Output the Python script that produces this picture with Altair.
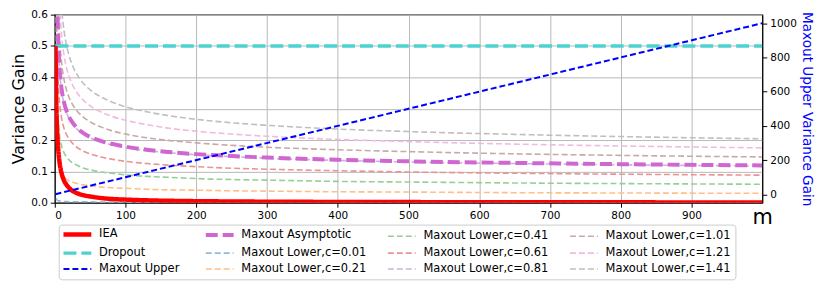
import altair as alt
import pandas as pd

# ---- data ----
M = [1, 2, 3, 4, 5, 6, 8, 10, 13, 16, 20, 25, 30, 40, 50, 65, 80, 100, 130, 160,
     200, 250, 300, 400, 500, 650, 800, 1000]
M_LOW = [2, 3, 4, 5, 6, 8, 10, 13, 16, 20, 25, 30, 40, 50, 65, 80, 100, 130, 160,
         200, 250, 300, 400, 500, 650, 800, 1000]

IEA = [0.5, 0.333, 0.25, 0.2, 0.167, 0.143, 0.111, 0.091, 0.071, 0.059, 0.048, 0.038,
       0.032, 0.024, 0.020, 0.015, 0.012, 0.0099, 0.0076, 0.0062, 0.005, 0.004, 0.0033,
       0.0025, 0.002, 0.0015, 0.0012, 0.001]

DROPOUT_M = [1, 1000]
DROPOUT = [0.5, 0.5]

UPPER_M = [1, 1000]
UPPER = [1, 1000]

ASYMPTOTIC = [1.187, 0.749, 0.593, 0.511, 0.459, 0.396, 0.357, 0.321, 0.297, 0.275, 0.256,
              0.242, 0.223, 0.210, 0.197, 0.188, 0.179, 0.169, 0.162, 0.155, 0.149, 0.144,
              0.137, 0.132, 0.127, 0.123, 0.119]

LOWER_001 = [0.014, 0.009, 0.007, 0.006, 0.006, 0.005, 0.004, 0.004, 0.004, 0.003, 0.003,
             0.003, 0.003, 0.003, 0.002, 0.002, 0.002, 0.002, 0.002, 0.002, 0.002, 0.002,
             0.002, 0.002, 0.002, 0.001, 0.001]
LOWER_021 = [0.303, 0.191, 0.151, 0.130, 0.117, 0.101, 0.091, 0.082, 0.076, 0.070, 0.065,
             0.062, 0.057, 0.054, 0.050, 0.048, 0.046, 0.043, 0.041, 0.040, 0.038, 0.037,
             0.035, 0.034, 0.032, 0.031, 0.030]
LOWER_041 = [0.592, 0.373, 0.296, 0.255, 0.229, 0.197, 0.178, 0.160, 0.148, 0.137, 0.127,
             0.121, 0.111, 0.105, 0.098, 0.094, 0.089, 0.084, 0.081, 0.077, 0.074, 0.072,
             0.068, 0.066, 0.063, 0.061, 0.059]
LOWER_061 = [0.880, 0.555, 0.440, 0.379, 0.340, 0.293, 0.265, 0.238, 0.220, 0.204, 0.190,
             0.179, 0.165, 0.156, 0.146, 0.139, 0.132, 0.125, 0.120, 0.115, 0.110, 0.107,
             0.102, 0.098, 0.094, 0.091, 0.088]
LOWER_081 = [1.169, 0.737, 0.584, 0.503, 0.452, 0.390, 0.352, 0.316, 0.292, 0.270, 0.252,
             0.238, 0.220, 0.207, 0.194, 0.185, 0.176, 0.166, 0.160, 0.153, 0.147, 0.142,
             0.135, 0.130, 0.125, 0.121, 0.117]
LOWER_101 = [1.457, 0.919, 0.729, 0.628, 0.564, 0.486, 0.439, 0.394, 0.364, 0.337, 0.314,
             0.297, 0.274, 0.258, 0.242, 0.230, 0.219, 0.207, 0.199, 0.191, 0.183, 0.177,
             0.169, 0.163, 0.156, 0.151, 0.146]
LOWER_121 = [1.746, 1.101, 0.873, 0.752, 0.675, 0.582, 0.526, 0.472, 0.436, 0.404, 0.376,
             0.356, 0.328, 0.309, 0.290, 0.276, 0.263, 0.249, 0.238, 0.228, 0.219, 0.212,
             0.202, 0.195, 0.187, 0.181, 0.175]
LOWER_141 = [2.034, 1.283, 1.017, 0.876, 0.787, 0.678, 0.612, 0.550, 0.509, 0.471, 0.438,
             0.415, 0.382, 0.360, 0.338, 0.322, 0.306, 0.290, 0.278, 0.266, 0.255, 0.247,
             0.235, 0.227, 0.218, 0.211, 0.204]

LOWER_NAMES = ["Maxout Lower,c=0.01", "Maxout Lower,c=0.21", "Maxout Lower,c=0.41",
               "Maxout Lower,c=0.61", "Maxout Lower,c=0.81", "Maxout Lower,c=1.01",
               "Maxout Lower,c=1.21", "Maxout Lower,c=1.41"]
LOWER_VALUES = [LOWER_001, LOWER_021, LOWER_041, LOWER_061, LOWER_081, LOWER_101,
                LOWER_121, LOWER_141]

# legend order (filled column by column, 3 rows)
ORDER = ["IEA", "Dropout", "Maxout Upper", "Maxout Asymptotic"] + LOWER_NAMES

# ---- styles ----
COLORS = ["#ff0000", "#4dd2d2", "#0000ff", "#d066d0",
          "#8fbbd9", "#ffbf86", "#95cf95", "#ea9393",
          "#c9b3de", "#c5aaa5", "#f1bbe0", "#bfbfbf"]
DASHES = [[1, 0], [13, 5], [6, 3], [12, 5]] + [[6, 3]] * 8
W_IEA, W_DROP, W_UPPER, W_ASYM, W_LOW = 4.5, 3.5, 2, 4, 1.6
SYMBOL_WIDTH_EXPR = (
    f"datum.value == 'IEA' ? {W_IEA} : datum.value == 'Dropout' ? {W_DROP} : "
    f"datum.value == 'Maxout Upper' ? {W_UPPER} : "
    f"datum.value == 'Maxout Asymptotic' ? {W_ASYM} : {W_LOW}"
)

# ---- tables ----
low_rows = []
for name, vals in zip(LOWER_NAMES, LOWER_VALUES):
    for m, v in zip(M_LOW, vals):
        low_rows.append({"series": name, "m": m, "v": v})
low_df = pd.DataFrame(low_rows)
asym_df = pd.DataFrame({"series": "Maxout Asymptotic", "m": M_LOW, "v": ASYMPTOTIC})
drop_df = pd.DataFrame({"series": "Dropout", "m": DROPOUT_M, "v": DROPOUT})
iea_df = pd.DataFrame({"series": "IEA", "m": M, "v": IEA})
upper_df = pd.DataFrame({"series": "Maxout Upper", "m": UPPER_M, "v": UPPER})

FONT = "DejaVu Sans"

legend = alt.Legend(
    title=None, orient="none", legendX=4, legendY=211, columns=4, direction="vertical",
    symbolType="M-1,0H4.6", symbolSize=100,
    symbolStrokeWidth=alt.ExprRef(SYMBOL_WIDTH_EXPR),
    labelFont=FONT, labelFontSize=11.5, labelColor="black", labelOffset=25,
    padding=4, strokeColor="#cccccc", cornerRadius=3, fillColor="white",
    columnPadding=17, rowPadding=1.9, labelLimit=300,
)

x_enc = alt.X("m:Q", scale=alt.Scale(domain=[0, 1000], nice=False),
              axis=alt.Axis(values=list(range(0, 1000, 100)), title="m", titleX=711, titleY=21,
                            titleAlign="center", titleBaseline="alphabetic", titleFontSize=21,
                            titleFontWeight="normal", grid=True))
y_left = alt.Y("v:Q", scale=alt.Scale(domain=[0, 0.6], nice=False, zero=False),
               axis=alt.Axis(values=[0, 0.1, 0.2, 0.3, 0.4, 0.5, 0.6], format=".1f",
                             title="Variance Gain", titleFontSize=16, titleFontWeight="normal",
                             titlePadding=4, grid=True))
color = alt.Color("series:N", scale=alt.Scale(domain=ORDER, range=COLORS), legend=legend)
dash = alt.StrokeDash("series:N", scale=alt.Scale(domain=ORDER, range=DASHES), legend=legend)


def lines(df, y, w):
    return alt.Chart(df).mark_line(clip=True, interpolate="monotone", strokeWidth=w).encode(
        x=x_enc, y=y, color=color, strokeDash=dash, detail="series:N")


left = alt.layer(
    lines(low_df, y_left, W_LOW),
    lines(asym_df, y_left, W_ASYM),
    lines(drop_df, y_left, W_DROP),
    lines(iea_df, y_left, W_IEA),
)

y_right = alt.Y("v:Q", scale=alt.Scale(domain=[-49, 1050], nice=False, zero=False),
                axis=alt.Axis(orient="right", values=[0, 200, 400, 600, 800, 1000], format="d",
                              title="Maxout Upper Variance Gain", titleColor="#0000ff",
                              titleFontSize=13.7, titleFontWeight="normal", titlePadding=3,
                              grid=False))
right = lines(upper_df, y_right, W_UPPER)

chart = alt.layer(left, right).resolve_scale(y="independent").properties(
    width=711, height=189,
    autosize=alt.AutoSizeParams(type="none"),
    padding={"left": 47, "top": 6, "right": 60, "bottom": 80},
).configure_view(
    stroke="#333333", strokeWidth=1.2
).configure_axis(
    labelFont=FONT, titleFont=FONT, labelFontSize=10.5, labelColor="black",
    tickColor="black", tickSize=4.5, labelPadding=3, domainColor="black",
    gridColor="#b8b8b8", gridWidth=1, titleColor="black"
)

chart.save("out.html", embed_options={"renderer": "svg", "actions": False})
